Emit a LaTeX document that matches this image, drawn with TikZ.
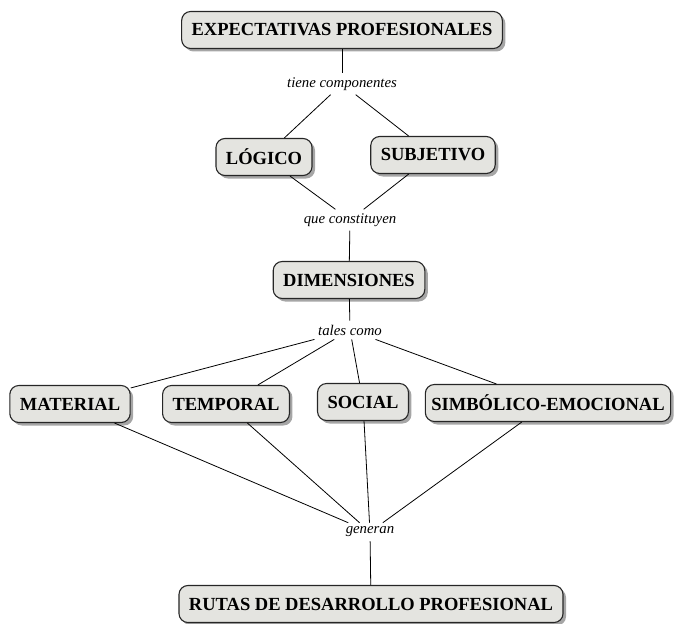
\documentclass[tikz,border=0pt]{standalone}
\usepackage{fontspec}
\setmainfont{Liberation Serif}
\usetikzlibrary{shadows}
\definecolor{boxfill}{HTML}{E4E4E0}
\begin{document}
\begin{tikzpicture}[x=1pt, y=-1pt,
  concept/.style={draw=black!85, line width=1.1pt, fill=boxfill, rounded corners=9pt,
    font=\fontsize{18.5}{20}\selectfont\bfseries, inner xsep=10pt, minimum height=37pt,
    drop shadow={shadow xshift=3pt, shadow yshift=-3pt, fill=black!35, opacity=1}},
  link/.style={font=\fontsize{14.8}{16}\selectfont\itshape, inner sep=4pt},
  conn/.style={line width=0.8pt}]
  \useasboundingbox (0,0) rectangle (676,623);

  \node[concept] (expect) at (342,30) {EXPECTATIVAS PROFESIONALES};
  \node[link] (tiene) at (342,84) {tiene componentes};
  \node[concept] (logico) at (264,157) {LÓGICO};
  \node[concept] (subj) at (433,155) {SUBJETIVO};
  \node[link] (que) at (350,220) {que constituyen};
  \node[concept] (dimen) at (349,280) {DIMENSIONES};
  \node[link] (tales) at (350,330) {tales como};
  \node[concept] (mater) at (70,404) {MATERIAL};
  \node[concept] (tempo) at (226,404) {TEMPORAL};
  \node[concept] (social) at (363,402) {SOCIAL};
  \node[concept, inner xsep=6pt] (simbol) at (548,403) {SIMBÓLICO-EMOCIONAL};
  \node[link] (generan) at (370,532) {generan};
  \node[concept] (rutas) at (371,604) {RUTAS DE DESARROLLO PROFESIONAL};

  \draw[conn] (expect) -- (tiene);
  \draw[conn] (tiene) -- (logico);
  \draw[conn] (tiene) -- (subj);
  \draw[conn] (logico) -- (que);
  \draw[conn] (subj) -- (que);
  \draw[conn] (que) -- (dimen);
  \draw[conn] (dimen) -- (tales);
  \foreach \n in {mater, tempo, social, simbol} {
    \draw[conn] (tales) -- (\n);
    \draw[conn] (\n) -- (generan);
  }
  \draw[conn] (generan) -- (rutas);
\end{tikzpicture}
\end{document}
